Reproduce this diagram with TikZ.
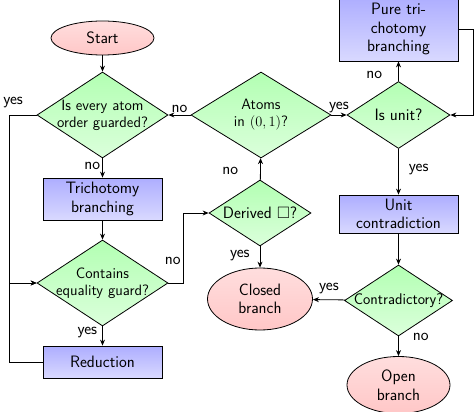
\documentclass[tikz,border=0pt]{standalone}
\usepackage{amssymb}
\usetikzlibrary{shapes.geometric,arrows.meta}
\begin{document}
\begin{tikzpicture}[x=1pt,y=-1pt,
  every node/.style={font=\sffamily\fontsize{15}{17}\selectfont},
  big/.style={font=\sffamily\fontsize{16.5}{18.5}\selectfont},
  dia/.style={diamond,draw,line width=0.8pt,inner sep=-6pt,aspect=1.5,align=center,top color=green!30!white,bottom color=green!14!white},
  boxn/.style={rectangle,draw,line width=0.8pt,inner sep=0pt,align=center,top color=blue!32!white,bottom color=blue!15!white,big},
  ell/.style={ellipse,draw,line width=0.8pt,inner sep=0pt,align=center,top color=red!13!white,bottom color=red!22!white,big},
  arr/.style={draw,line width=0.8pt,-{Stealth[length=6pt,width=5pt]}},
  lbl/.style={inner sep=2pt,fill=none,big}]
\useasboundingbox (0,0) rectangle (474,412);
\node[ell,minimum width=103,minimum height=34] (start) at (102.5,38) {Start};
\node[dia,minimum width=131,minimum height=86] (d1) at (102.5,115) {Is every atom\\order guarded?};
\node[boxn,minimum width=119,minimum height=42] (tri) at (102.5,199) {Trichotomy\\branching};
\node[dia,minimum width=131,minimum height=86] (d2) at (102.5,283) {Contains\\equality guard?};
\node[boxn,minimum width=119,minimum height=32] (red) at (102.5,362) {Reduction};
\node[dia,minimum width=140,minimum height=86] (atoms) at (261,115) {Atoms\\in $(0,1)$?};
\node[dia,minimum width=103,minimum height=67,big] (unit) at (398.5,115) {Is unit?};
\node[boxn,minimum width=119,minimum height=64] (pure) at (398.5,29) {Pure tri-\\chotomy\\branching};
\node[boxn,minimum width=119,minimum height=38] (ucon) at (398.5,214) {Unit\\contradiction};
\node[dia,minimum width=108,minimum height=71,font=\sffamily\fontsize{15.5}{17}\selectfont] (contra) at (398.5,300.5) {Contradictory?};
\node[ell,minimum width=105,minimum height=62] (closed) at (260,299) {Closed\\branch};
\node[ell,minimum width=103,minimum height=57] (open) at (398.5,385) {Open\\branch};
\node[dia,minimum width=102,minimum height=66,big] (derived) at (260,213) {Derived $\square$?};
\coordinate (lx) at (9,0);
\coordinate (rx) at (473,0);
\coordinate (mx) at (183,0);
\draw[arr] (start) -- (d1);
\draw[arr] (d1) -- node[lbl,left,pos=0.4]{no} (tri);
\draw[arr] (d1.west) -- node[lbl,above,pos=0.85,yshift=5pt]{yes} (d1.west -| lx) |- (d2.west);
\draw[arr] (red.west) -- (red.west -| lx) |- (d2.west);
\draw[arr] (tri) -- (d2);
\draw[arr] (d2) -- node[lbl,left,pos=0.3,xshift=-3pt]{yes} (red);
\draw[arr] (d2.east) -- (d2.east -| mx) |- node[lbl,left,pos=0.16]{no} (derived.west);
\draw[arr] (derived) -- node[lbl,left,pos=0.4,xshift=-20pt]{no} (atoms);
\draw[arr] (derived) -- node[lbl,left,pos=0.45,xshift=-8pt]{yes} (closed);
\draw[arr] (atoms) -- node[lbl,above]{no} (d1);
\draw[arr] (atoms) -- node[lbl,above]{yes} (unit);
\draw[arr] (unit) -- node[lbl,left,pos=0.3,xshift=-14pt]{no} (pure);
\draw[arr] (pure.east) -- (pure.east -| rx) |- (unit.east);
\draw[arr] (unit) -- node[lbl,right,pos=0.45,xshift=8pt]{yes} (ucon);
\draw[arr] (ucon) -- (contra);
\draw[arr] (contra) -- node[lbl,above,pos=0.5,yshift=3pt]{yes} (closed);
\draw[arr] (contra) -- node[lbl,right,pos=0.05,xshift=12pt]{no} (open);
\end{tikzpicture}
\end{document}
